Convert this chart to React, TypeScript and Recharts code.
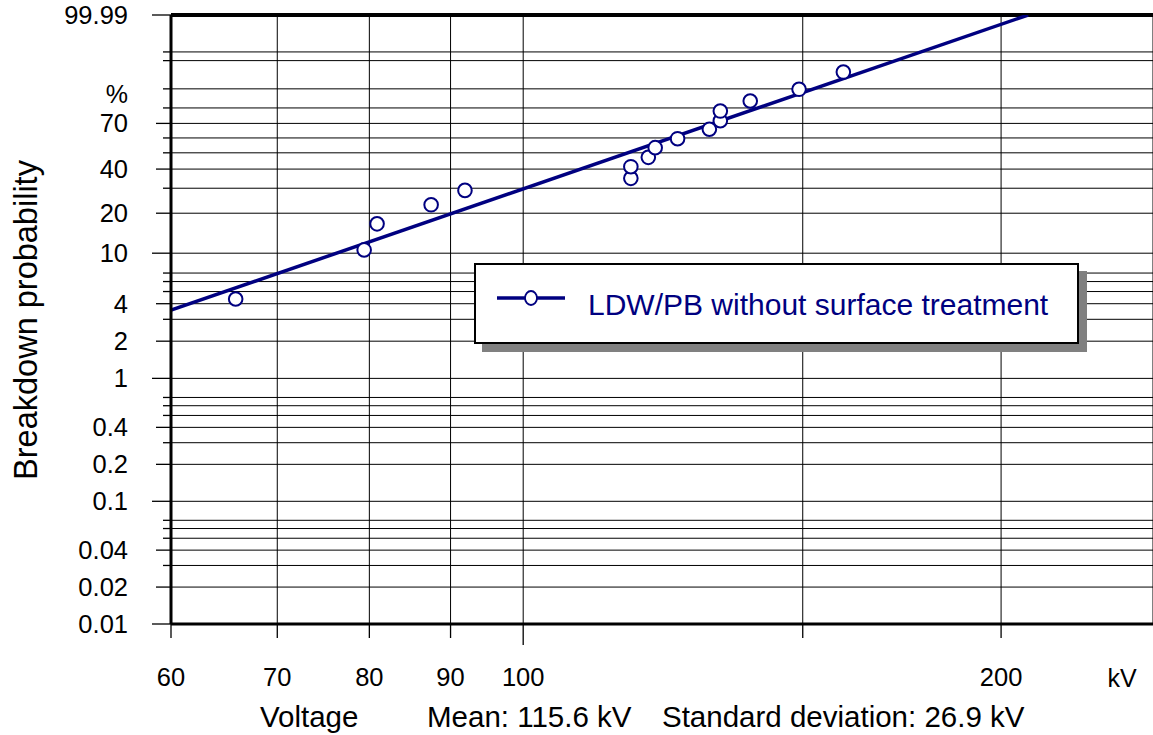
import React from 'react';
import {
  ComposedChart,
  Scatter,
  Line,
  XAxis,
  YAxis,
  CartesianGrid,
  ReferenceLine,
  Legend,
  Label,
} from 'recharts';

// ---- data ----
const voltageKV = [65.9, 79.4, 80.9, 87.5, 91.9, 116.9, 116.9, 119.9, 121.1, 125.1, 131.0, 133.1, 133.1, 139.0, 149.2, 159.1];
const breakdownPct = [4.36, 10.6, 16.7, 23.0, 29.0, 34.9, 41.4, 47.1, 53.4, 59.5, 66.0, 71.8, 78.1, 84.0, 89.8, 95.75];

// fitted Weibull line (two end points)
const fitVoltageKV = [60, 208];
const fitPct = [3.55, 99.99];

// axes
const xTickKV = [60, 70, 80, 90, 100, 150, 200];
const xTickLabels = ['60', '70', '80', '90', '100', '', '200'];
const X_MIN = 60;
const X_MAX = 249.3;

const yGridPct = [0.01, 0.02, 0.03, 0.04, 0.05, 0.06, 0.07, 0.1, 0.2, 0.3, 0.4, 0.5, 0.6, 0.7, 1, 2, 3, 4, 5, 6, 7, 10, 20, 30, 40, 50, 60, 70, 80, 90, 98, 99, 99.99];
const yLabeledPct = [0.01, 0.02, 0.04, 0.1, 0.2, 0.4, 1, 2, 4, 10, 20, 40, 70, 99.99];
const yMajorPct = [0.01, 0.1, 1, 10, 99.99];
const P_MIN = 0.01;
const P_MAX = 99.99;

const SERIES_NAME = 'LDW/PB without surface treatment';
const NAVY = '#000080';
const FONT = '"Liberation Sans", Arial, Helvetica, sans-serif';

// ---- transforms (Weibull probability paper, log voltage) ----
const weib = (p: number) => Math.log(-Math.log(1 - p / 100));
const lg = (v: number) => Math.log10(v);

const points = voltageKV.map((v, i) => ({ x: lg(v), y: weib(breakdownPct[i]) }));
const fitLine = fitVoltageKV.map((v, i) => ({ x: lg(v), y: weib(fitPct[i]) }));

const findPct = (val: number) => yGridPct.find((p) => Math.abs(weib(p) - val) < 1e-6);

const YTick = (props: any) => {
  const { x, y, payload } = props;
  const p = findPct(payload.value);
  if (p === undefined) return null;
  const labeled = yLabeledPct.includes(p);
  const major = yMajorPct.includes(p);
  const len = major ? 19 : labeled ? 15 : 8;
  return (
    <g>
      <line x1={x - len} x2={x} y1={y} y2={y} stroke="#000" strokeWidth={1.3} />
      {labeled && (
        <text x={x - 43} y={y} dy={9} textAnchor="end" fontSize={25.5} fontFamily={FONT} fill="#000">
          {String(p)}
        </text>
      )}
    </g>
  );
};

const XTick = (props: any) => {
  const { x, y, payload } = props;
  const idx = xTickKV.findIndex((v) => Math.abs(lg(v) - payload.value) < 1e-6);
  if (idx < 0) return null;
  const v = xTickKV[idx];
  const len = v === 100 ? 21 : 14;
  return (
    <g>
      <line x1={x} x2={x} y1={y} y2={y + len} stroke="#000" strokeWidth={1.3} />
      {xTickLabels[idx] && (
        <text x={x} y={y + 62} textAnchor="middle" fontSize={25.5} fontFamily={FONT} fill="#000">
          {xTickLabels[idx]}
        </text>
      )}
    </g>
  );
};

const XLabel = (props: any) => {
  const { x, y } = props.viewBox;
  return (
    <g fontFamily={FONT} fill="#000">
      <text x={x + 951} y={y + 63} textAnchor="middle" fontSize={25}>kV</text>
      <text x={x + 89} y={y + 103} fontSize={29.5}>Voltage</text>
      <text x={x + 256} y={y + 103} fontSize={29.5}>Mean: 115.6 kV</text>
      <text x={x + 491} y={y + 103} fontSize={29.5}>Standard deviation: 26.9 kV</text>
    </g>
  );
};

const YLabel = (props: any) => {
  const { x, y } = props.viewBox;
  return (
    <g fontFamily={FONT} fill="#000">
      <text
        x={x + 37}
        y={y + 305}
        textAnchor="middle"
        fontSize={32.5}
        transform={`rotate(-90, ${x + 37}, ${y + 305})`}
      >
        Breakdown probability
      </text>
      <text x={x + 128} y={y + 88} textAnchor="end" fontSize={25}>%</text>
    </g>
  );
};

const LegendBox = () => (
  <div
    style={{
      position: 'relative',
      boxSizing: 'border-box',
      width: 605,
      height: 81,
      border: '2px solid #000',
      background: '#fff',
      boxShadow: '8px 8px 0 #808080',
    }}
  >
    <svg width={605} height={81} style={{ position: 'absolute', left: -2, top: -2 }}>
      <line x1={23} x2={91} y1={35} y2={35} stroke={NAVY} strokeWidth={3.5} />
      <ellipse cx={57} cy={35} rx={6} ry={7} fill="#fff" stroke={NAVY} strokeWidth={1.8} />
      <text x={114} y={52} fontSize={30} fontFamily={FONT} fill={NAVY}>
        {SERIES_NAME}
      </text>
    </svg>
  </div>
);

const Marker = (props: any) => {
  const { cx, cy } = props;
  if (cx == null || cy == null) return <g />;
  return <circle cx={cx} cy={cy} r={6.8} fill="#fff" stroke={NAVY} strokeWidth={2} />;
};

export default function App() {
  return (
    <div style={{ position: 'absolute', left: 0, top: 0, width: 1153, height: 735, background: '#fff' }}>
      <ComposedChart width={1153} height={735} margin={{ top: 15, right: 0, bottom: 0, left: 0 }}>
        <CartesianGrid stroke="#000" strokeWidth={1} />
        <XAxis
          dataKey="x"
          type="number"
          domain={[lg(X_MIN), lg(X_MAX)]}
          ticks={xTickKV.map(lg)}
          interval={0}
          allowDataOverflow
          height={111}
          tickSize={0}
          tickMargin={0}
          tickLine={false}
          tick={<XTick />}
          axisLine={{ stroke: '#000', strokeWidth: 3 }}
        >
          <Label content={<XLabel />} />
        </XAxis>
        <YAxis
          dataKey="y"
          type="number"
          domain={[weib(P_MIN), weib(P_MAX)]}
          ticks={yGridPct.map(weib)}
          interval={0}
          allowDataOverflow
          width={171}
          tickSize={0}
          tickMargin={0}
          tickLine={false}
          tick={<YTick />}
          axisLine={{ stroke: '#000', strokeWidth: 3 }}
        >
          <Label content={<YLabel />} />
        </YAxis>
        <ReferenceLine y={weib(P_MAX)} stroke="#000" strokeWidth={4} />
        <Line
          data={fitLine}
          dataKey="y"
          type="linear"
          stroke={NAVY}
          strokeWidth={3.5}
          dot={false}
          activeDot={false}
          isAnimationActive={false}
          legendType="none"
        />
        <Scatter
          name={SERIES_NAME}
          data={points}
          dataKey="y"
          shape={<Marker />}
          isAnimationActive={false}
        />
        <Legend
          verticalAlign="middle"
          align="center"
          layout="horizontal"
          wrapperStyle={{ position: 'absolute', left: 474, top: 263, width: 605, height: 81 }}
          content={() => <LegendBox />}
        />
      </ComposedChart>
    </div>
  );
}
